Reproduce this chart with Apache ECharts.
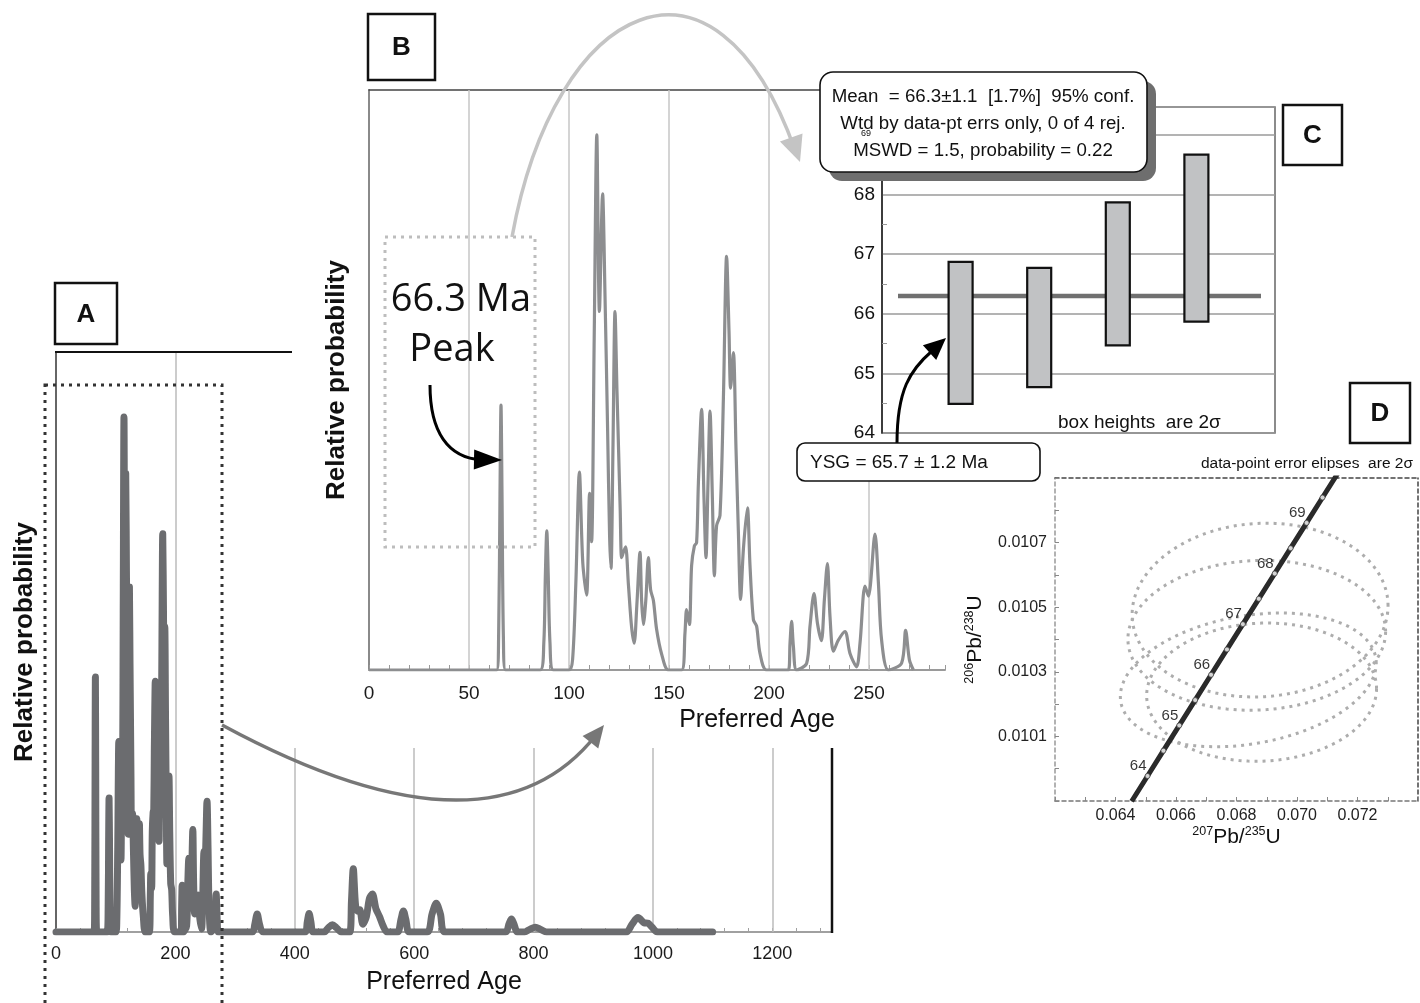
<!DOCTYPE html>
<html>
<head>
<meta charset="utf-8">
<title>Detrital zircon ages</title>
<script src="https://cdn.jsdelivr.net/npm/echarts/dist/echarts.min.js"></script>
<style>
html,body{margin:0;padding:0;background:#ffffff;}
#chart{width:1420px;height:1003px;}
</style>
</head>
<body>
<div id="chart"></div>
<script>
// ---------------- DATA ----------------
// Probability density curve (age in Ma, relative probability; tallest peak = 1)
const ageMa = [0,60,63.8,64.8,65.5,66.0,66.5,67.2,68.3,85.6,87.4,88.2,88.9,89.6,90.5,92.2,100,101.8,103.4,105.2,106.9,108.8,110.3,111.3,112.6,113.9,115.2,116.8,118.0,119.3,120.3,121.0,122.0,123.0,124.0,124.8,125.6,126.3,127.2,128.3,129.7,131.3,132.6,133.9,135.5,136.3,137.2,138.4,139.7,140.8,142.2,143.8,146.3,149.7,156.3,158.0,158.8,160.2,161.3,162.7,163.8,164.7,166.3,167.5,168.5,169.5,170.5,171.7,172.7,173.8,175.5,177.2,178.8,180.0,180.8,182.2,183.5,184.7,185.8,187.2,189.2,190.5,192.2,193.8,195.5,198.8,209.7,210.5,211.3,212.2,213.8,218.8,220.5,222.5,224.2,226.2,227.7,229.2,230.5,232.2,234.7,238.0,240.5,243.8,245.5,248.0,249.7,253.0,254.7,256.3,259.7,266.3,268.3,270.2,272.2,329,333,337,341,347,417,421,424,427,431,449,456,463,470,478,492,495,498,502,506,509,514,520,525,530,536,542,548,555,572,578,582,586,592,622,630,637,644,652,753,759,763,767,773,785,795,803,812,822,955,965,975,985,992,998,1008,1100];
const relProb = [0,0,0,0.06,0.33,0.495,0.33,0.06,0,0,0.05,0.18,0.26,0.18,0.05,0,0,0.02,0.16,0.37,0.2,0.14,0.33,0.24,0.62,1.0,0.67,0.89,0.7,0.45,0.25,0.19,0.42,0.67,0.52,0.41,0.3,0.21,0.22,0.23,0.16,0.08,0.05,0.12,0.22,0.13,0.085,0.13,0.21,0.15,0.13,0.076,0.03,0,0,0.07,0.113,0.085,0.195,0.232,0.238,0.35,0.487,0.32,0.21,0.35,0.484,0.32,0.176,0.27,0.289,0.508,0.773,0.634,0.527,0.593,0.414,0.257,0.132,0.226,0.303,0.195,0.094,0.082,0.031,0,0,0.05,0.091,0.044,0,0.012,0.082,0.143,0.088,0.055,0.132,0.199,0.1,0.035,0.056,0.072,0.031,0.006,0.05,0.157,0.138,0.254,0.163,0.056,0,0.013,0.074,0.019,0,0,0.015,0.035,0.015,0,0,0.02,0.036,0.02,0,0,0.008,0.014,0.008,0,0,0.06,0.123,0.05,0.04,0.043,0.015,0.03,0.065,0.074,0.045,0.03,0.012,0,0,0.025,0.041,0.025,0,0,0.035,0.056,0.035,0,0,0.016,0.025,0.016,0,0,0.006,0.009,0.005,0,0,0.015,0.028,0.018,0.017,0.01,0,0];

// Panel C: youngest grains (age, 2-sigma error, Ma) and weighted mean
const cGrainAge = [65.68, 65.77, 66.67, 67.27];
const cGrainErr = [1.19, 1.0, 1.2, 1.4];
const cMeanAge = 66.3;

// Panel D: concordia (age Ma, 207Pb/235U, 206Pb/238U)
const conAge = [63.5,64,64.5,65,65.5,66,66.5,67,67.5,68,68.5,69,69.5,70];
const conX = [0.0645349,0.0650592,0.0655838,0.0661087,0.0666337,0.0671591,0.0676847,0.0682107,0.0687368,0.0692632,0.0697899,0.0703168,0.0708439,0.0713713];
const conY = [0.0098991,0.0099774,0.0100558,0.0101341,0.0102125,0.0102908,0.0103692,0.0104476,0.0105260,0.0106043,0.0106827,0.0107611,0.0108395,0.0109179];
// Panel D: analyses (centre, 2-sigma half-widths, error correlation)
const ellCx = [0.06878, 0.06867, 0.06839, 0.06883];
const ellCy = [0.010491, 0.010413, 0.010275, 0.010237];
const ellAx = [0.00423, 0.00426, 0.00423, 0.00380];
const ellBy = [0.000269, 0.000232, 0.000207, 0.000214];
const ellRho = [0.05, 0.05, 0.25, 0.05];

// Tick sets for gridlines
const gridAgesA = [200, 400, 600, 800, 1000, 1200];
const gridAgesB = [50, 100, 150, 200, 250];

// ---------------- LAYOUT / STYLE ----------------
const FONT = '"Liberation Sans", Arial, Helvetica, sans-serif';
const A_YMAX = 1.126, B_YMAX = 1.084;
const A_BAND = A_YMAX * 184 / 580; // lower band where A gridlines are visible

const curve = ageMa.map((a, i) => [a, relProb[i]]);
const curveB = curve.filter(p => p[0] <= 300);

const markA = [[{coord: [200, 0]}, {coord: [200, A_YMAX]}]]
  .concat(gridAgesA.filter(v => v !== 200).map(v => [{coord: [v, 0]}, {coord: [v, A_BAND]}]));

function txt(x, y, text, font, o) {
  o = o || {};
  const al = o.align || 'center', va = o.va || 'middle';
  return {type: 'text', x: x, y: y, z: o.z || 8, silent: true,
    style: {text: text, font: font, fill: o.fill || '#111', align: al, verticalAlign: va, textAlign: al, textVerticalAlign: va}};
}
function head(tx, ty, fx, fy, len, hw, color, z) {
  const dx = tx - fx, dy = ty - fy, d = Math.hypot(dx, dy), ux = dx / d, uy = dy / d;
  const bx = tx - ux * len, by = ty - uy * len;
  return {type: 'polygon', z: z, silent: true,
    shape: {points: [[tx, ty], [bx - uy * hw, by + ux * hw], [bx + uy * hw, by - ux * hw]]},
    style: {fill: color}};
}
function labelBox(x, y, w, h, t) {
  return [
    {type: 'rect', z: 9, silent: true, shape: {x: x, y: y, width: w, height: h}, style: {fill: '#fff', stroke: '#111', lineWidth: 2.5}},
    txt(x + w / 2, y + h / 2 + 1, t, 'bold 26px ' + FONT, {z: 10})
  ];
}

const elements = [].concat(
  // panel A frame pieces
  [{type: 'line', z: 3, silent: true, shape: {x1: 55, y1: 352, x2: 292, y2: 352}, style: {stroke: '#111', lineWidth: 2}},
   {type: 'line', z: 3, silent: true, shape: {x1: 832, y1: 748, x2: 832, y2: 933}, style: {stroke: '#111', lineWidth: 2.5}},
   {type: 'rect', z: 5, silent: true, shape: {x: 45, y: 385, width: 177, height: 640}, style: {fill: 'none', stroke: '#333', lineWidth: 3, lineDash: [3, 5]}}],
  // arrow A -> B
  [{type: 'bezierCurve', z: 5, silent: true, shape: {x1: 222, y1: 725, cpx1: 490, cpy1: 870, x2: 596, y2: 735}, style: {stroke: '#777', lineWidth: 3.5, fill: 'none'}},
   head(604, 725, 490, 870, 22, 10, '#777', 5)],
  // panel B annotation
  [{type: 'rect', z: 5, silent: true, shape: {x: 385, y: 237, width: 150, height: 310}, style: {fill: 'none', stroke: '#bdbdbd', lineWidth: 3, lineDash: [3, 5]}},
   txt(461, 300, '66.3 Ma', '38px "Open Sans", sans-serif', {fill: '#111', z: 6}),
   txt(452, 350, 'Peak', '38px "Open Sans", sans-serif', {fill: '#111', z: 6}),
   {type: 'bezierCurve', z: 6, silent: true, shape: {x1: 430, y1: 385, cpx1: 430, cpy1: 432, cpx2: 448, cpy2: 458, x2: 482, y2: 460}, style: {stroke: '#000', lineWidth: 3, fill: 'none'}},
   head(502, 460, 448, 459, 28, 10, '#000', 6)],
  // arrow B -> C
  [{type: 'bezierCurve', z: 5, silent: true, shape: {x1: 512, y1: 237, cpx1: 555, cpy1: 0, cpx2: 715, cpy2: -75, x2: 795, y2: 150}, style: {stroke: '#c4c4c4', lineWidth: 3.5, fill: 'none'}},
   head(800, 162, 715, -75, 26, 12, '#c4c4c4', 5)],
  // panel C background
  [{type: 'rect', z: 3, silent: true, shape: {x: 843, y: 95, width: 437, height: 348}, style: {fill: '#fff'}}],
  // callout
  [{type: 'rect', z: 6, silent: true, shape: {x: 829, y: 81, width: 327, height: 100, r: 13}, style: {fill: '#6e6e6e'}},
   {type: 'rect', z: 7, silent: true, shape: {x: 820, y: 72, width: 327, height: 100, r: 13}, style: {fill: '#fff', stroke: '#111', lineWidth: 1.6}},
   txt(983, 97, 'Mean  = 66.3\u00b11.1  [1.7%]  95% conf.', '18.7px ' + FONT),
   txt(983, 124, 'Wtd by data-pt errs only, 0 of 4 rej.', '18.7px ' + FONT),
   txt(983, 151, 'MSWD = 1.5, probability = 0.22', '18.7px ' + FONT),
   txt(866, 134, '69', '9px ' + FONT, {z: 9})],
  // YSG callout + arrow
  [{type: 'rect', z: 7, silent: true, shape: {x: 797, y: 443, width: 243, height: 38, r: 8}, style: {fill: '#fff', stroke: '#111', lineWidth: 1.6}},
   txt(810, 463, 'YSG = 65.7 \u00b1 1.2 Ma', '19px ' + FONT, {align: 'left'}),
   {type: 'bezierCurve', z: 6, silent: true, shape: {x1: 897, y1: 443, cpx1: 897, cpy1: 390, cpx2: 910, cpy2: 370, x2: 932, y2: 351}, style: {stroke: '#000', lineWidth: 3, fill: 'none'}},
   head(946, 338, 910, 370, 22, 10, '#000', 6),
   txt(1058, 423, 'box heights  are 2\u03c3', '19px ' + FONT, {align: 'left', z: 6})],
  // panel D title
  [txt(1413, 464, 'data-point error elipses  are 2\u03c3', '15.5px ' + FONT, {align: 'right', z: 6})],
  labelBox(55, 283, 62, 61, 'A'),
  labelBox(368, 14, 67, 66, 'B'),
  labelBox(1283, 105, 59, 60, 'C'),
  labelBox(1350, 383, 60, 60, 'D')
);

const hide = {show: false};
const chart = echarts.init(document.getElementById('chart'), null, {renderer: 'canvas'});
const option = {
  animation: false,
  backgroundColor: '#ffffff',
  textStyle: {fontFamily: FONT},
  grid: [
    {left: 56, top: 352, width: 776, height: 580, containLabel: false, outerBoundsMode: 'none'},
    {left: 369, top: 90, width: 576, height: 580, containLabel: false, outerBoundsMode: 'none'},
    {left: 882, top: 107, width: 393, height: 326, containLabel: false, outerBoundsMode: 'none', show: true, z: 4, backgroundColor: 'transparent', borderColor: '#666', borderWidth: 1.5},
    {left: 1055, top: 478, width: 363, height: 323, containLabel: false, outerBoundsMode: 'none'}
  ],
  xAxis: [
    {gridIndex: 0, type: 'value', min: 0, max: 1300, interval: 200,
      axisLine: {show: true, onZero: false, lineStyle: {color: '#a0a0a0', width: 2}},
      axisTick: {show: true, inside: true, length: 4, lineStyle: {color: '#a0a0a0'}},
      minorTick: {show: true, splitNumber: 5, length: 4, lineStyle: {color: '#a0a0a0'}},
      splitLine: hide, minorSplitLine: hide,
      axisLabel: {fontSize: 18, color: '#1a1a1a', margin: 13, formatter: v => (Math.round(v) % 200 === 0 ? String(Math.round(v)) : '')},
      name: 'Preferred Age', nameLocation: 'middle', nameGap: 38, nameTextStyle: {fontSize: 25, color: '#111'}},
    {gridIndex: 1, type: 'value', min: 0, max: 288, interval: 50,
      axisLine: {show: true, onZero: false, lineStyle: {color: '#9a9a9a', width: 2}},
      axisTick: {show: true, inside: true, length: 5, lineStyle: {color: '#9a9a9a'}},
      minorTick: {show: true, splitNumber: 5, length: 5, lineStyle: {color: '#9a9a9a'}},
      splitLine: hide, minorSplitLine: hide,
      axisLabel: {fontSize: 19, color: '#1a1a1a', margin: 14, formatter: v => (Math.round(v) % 50 === 0 ? String(Math.round(v)) : '')},
      name: 'Preferred Age', nameLocation: 'middle', nameGap: 38, nameTextStyle: {fontSize: 25, color: '#111', padding: [0, 0, 0, 200]}},
    {gridIndex: 1, type: 'value', position: 'top', min: 0, max: 288,
      axisLine: {show: true, onZero: false, lineStyle: {color: '#444', width: 1.5}},
      axisTick: hide, axisLabel: hide, splitLine: hide},
    {gridIndex: 2, type: 'value', min: 0, max: 5, show: false},
    {gridIndex: 3, type: 'value', min: 0.062, max: 0.074, interval: 0.001,
      axisLine: {show: true, onZero: false, lineStyle: {color: '#777', width: 1.5, type: [4, 3]}},
      axisTick: {show: true, inside: true, length: 4, lineStyle: {color: '#888'}},
      splitLine: hide,
      axisLabel: {fontSize: 16, color: '#222', margin: 7, formatter: v => { const k = Math.round(v * 1000); return (k % 2 === 0 && k >= 64 && k <= 72) ? v.toFixed(3) : ''; }},
      name: '{s|207}{n|Pb/}{s|235}{n|U}', nameLocation: 'middle', nameGap: 22,
      nameTextStyle: {color: '#111', rich: {n: {fontSize: 21, color: '#111', lineHeight: 24}, s: {fontSize: 12.5, color: '#111', verticalAlign: 'top', lineHeight: 24}}}},
    {gridIndex: 3, type: 'value', position: 'top', min: 0.062, max: 0.074,
      axisLine: {show: true, onZero: false, lineStyle: {color: '#444', width: 1.5, type: [4, 3]}},
      axisTick: hide, axisLabel: hide, splitLine: hide}
  ],
  yAxis: [
    {gridIndex: 0, type: 'value', min: 0, max: A_YMAX,
      axisLine: {show: true, onZero: false, lineStyle: {color: '#666', width: 2}},
      axisTick: hide, axisLabel: hide, splitLine: hide,
      name: 'Relative probability', nameLocation: 'middle', nameRotate: 90, nameGap: 18,
      nameTextStyle: {fontSize: 26, fontWeight: 'bold', color: '#111'}},
    {gridIndex: 1, type: 'value', min: 0, max: B_YMAX,
      axisLine: {show: true, onZero: false, lineStyle: {color: '#8a8a8a', width: 2}},
      axisTick: hide, axisLabel: hide, splitLine: hide,
      name: 'Relative probability', nameLocation: 'middle', nameRotate: 90, nameGap: 19,
      nameTextStyle: {fontSize: 26, fontWeight: 'bold', color: '#111'}},
    {gridIndex: 2, type: 'value', min: 64, max: 69.47, interval: 1, z: 4,
      axisLine: {show: true, onZero: false, lineStyle: {color: '#222', width: 1.5}},
      axisTick: {show: false, inside: true},
      minorTick: {show: true, splitNumber: 2, length: 5, lineStyle: {color: '#999'}},
      splitLine: {show: true, lineStyle: {color: '#9a9a9a', width: 1.5}},
      axisLabel: {fontSize: 19, color: '#111', margin: 7, formatter: v => (Math.abs(v - Math.round(v)) < 1e-6 ? String(Math.round(v)) : '')}},
    {gridIndex: 3, type: 'value', min: 0.0099, max: 0.0109, interval: 0.0001,
      axisLine: {show: true, onZero: false, lineStyle: {color: '#999', width: 1.5, type: [4, 3]}},
      axisTick: {show: true, inside: true, length: 4, lineStyle: {color: '#888'}},
      splitLine: hide,
      axisLabel: {fontSize: 16, color: '#222', margin: 8, formatter: v => { const k = Math.round(v * 10000); return (k % 2 === 1 && k >= 101 && k <= 107) ? v.toFixed(4) : ''; }},
      name: '{s|206}{n|Pb/}{s|238}{n|U}', nameLocation: 'middle', nameRotate: 90, nameGap: 68,
      nameTextStyle: {color: '#111', rich: {n: {fontSize: 21, color: '#111', lineHeight: 24}, s: {fontSize: 12.5, color: '#111', verticalAlign: 'top', lineHeight: 24}}}},
    {gridIndex: 3, type: 'value', position: 'right', min: 0.0099, max: 0.0109,
      axisLine: {show: true, onZero: false, lineStyle: {color: '#444', width: 1.5, type: [4, 3]}},
      axisTick: hide, axisLabel: hide, splitLine: hide}
  ],
  series: [
    {type: 'line', name: 'A', xAxisIndex: 0, yAxisIndex: 0, data: curve, showSymbol: false, smooth: 0.3, z: 2,
      lineStyle: {color: '#6b6c6f', width: 7, join: 'round', cap: 'round'},
      markLine: {silent: true, z: 1, symbol: ['none', 'none'], label: {show: false}, emphasis: {disabled: true},
        lineStyle: {color: '#bbbbbb', width: 1.5, type: 'solid'}, data: markA}},
    {type: 'line', name: 'B', xAxisIndex: 1, yAxisIndex: 1, data: curveB, showSymbol: false, smooth: 0.3, z: 2,
      lineStyle: {color: '#8d8e90', width: 3.2, join: 'round'},
      markLine: {silent: true, z: 1, symbol: ['none', 'none'], label: {show: false}, emphasis: {disabled: true},
        lineStyle: {color: '#c6c6c6', width: 1.5, type: 'solid'}, data: gridAgesB.map(v => ({xAxis: v}))}},
    {type: 'custom', name: 'mean', xAxisIndex: 3, yAxisIndex: 2, z: 5, data: [[2.5, cMeanAge]],
      renderItem: (params, api) => {
        const cs = params.coordSys; const p = api.coord([2.5, api.value(1)]);
        return {type: 'line', shape: {x1: cs.x + 16, y1: p[1], x2: cs.x + cs.width - 14, y2: p[1]}, style: {stroke: '#707070', lineWidth: 4.5}};
      }},
    {type: 'custom', name: 'grains', xAxisIndex: 3, yAxisIndex: 2, z: 6,
      dimensions: ['i', 'age', 'err'], encode: {x: 0, y: 1},
      data: cGrainAge.map((a, i) => [i + 1, a, cGrainErr[i]]),
      renderItem: (params, api) => {
        const x = api.value(0), c = api.value(1), e = api.value(2);
        const t = api.coord([x, c + e]), b = api.coord([x, c - e]);
        return {type: 'rect', shape: {x: t[0] - 12, y: t[1], width: 24, height: b[1] - t[1]}, style: {fill: '#c1c2c4', stroke: '#111', lineWidth: 2.2}};
      }},
    {type: 'custom', name: 'ellipses', xAxisIndex: 4, yAxisIndex: 3, z: 2,
      dimensions: ['x', 'y', 'a', 'b', 'r'], encode: {x: 0, y: 1},
      data: ellCx.map((c, i) => [c, ellCy[i], ellAx[i], ellBy[i], ellRho[i]]),
      renderItem: (params, api) => {
        const cx = api.value(0), cy = api.value(1), a = api.value(2), b = api.value(3), r = api.value(4);
        const s = Math.sqrt(1 - r * r), pts = [];
        for (let k = 0; k <= 160; k++) {
          const t = k / 160 * 2 * Math.PI;
          pts.push(api.coord([cx + a * Math.cos(t), cy + b * (r * Math.cos(t) + s * Math.sin(t))]));
        }
        return {type: 'polygon', shape: {points: pts}, style: {fill: 'none', stroke: '#adadad', lineWidth: 3, lineDash: [3, 5]}};
      }},
    {type: 'line', name: 'concordia', xAxisIndex: 4, yAxisIndex: 3, z: 3, showSymbol: false, clip: true,
      data: conX.map((x, i) => [x, conY[i]]),
      lineStyle: {color: '#2a2a2a', width: 5}},
    {type: 'scatter', name: 'ticks', xAxisIndex: 4, yAxisIndex: 3, z: 4, clip: true,
      data: conX.map((x, i) => [x, conY[i], conAge[i]]),
      symbol: 'circle', symbolSize: 5,
      itemStyle: {color: '#ffffff', borderColor: '#444', borderWidth: 1},
      label: {show: true, position: 'left', offset: [7, -10], fontSize: 15, color: '#000',
        formatter: p => (Number.isInteger(p.value[2]) ? String(p.value[2]) : '')}}
  ],
  graphic: {elements: elements}
};
chart.setOption(option);
</script>
</body>
</html>
